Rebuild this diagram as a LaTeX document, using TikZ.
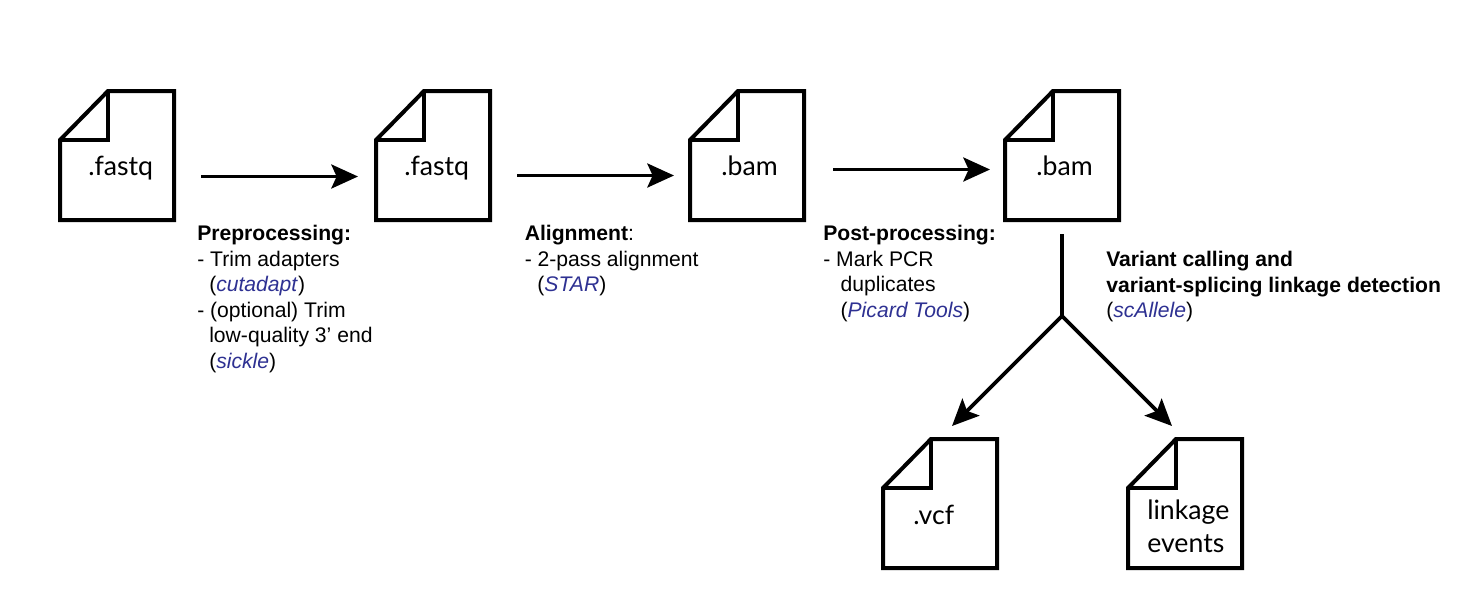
\documentclass[tikz,border=0pt]{standalone}
\usepackage{fontspec}
\setmainfont{Liberation Sans}
\newfontfamily\docfont{Lato}
\usetikzlibrary{arrows.meta}
\definecolor{toolblue}{HTML}{2E3192}
\tikzset{
  docline/.style={draw=black,line width=3pt,line join=miter,miter limit=3},
  doclabel/.style={inner sep=0pt,anchor=base west,font=\docfont\fontsize{20}{24}\selectfont},
  flow/.style={draw=black,line width=2.7pt,-{Stealth[length=20pt,width=18pt,inset=4pt]}},
  stem/.style={draw=black,line width=2.7pt},
  note/.style={inner sep=0pt,anchor=north west,align=left,font=\fontsize{15.85}{19.2}\selectfont},
}
\newcommand{\tool}[1]{\textcolor{toolblue}{\textit{#1}}}
\newcommand{\docfile}[3]{%
  \draw[docline] (#2,{#3+49}) -- ({#2+48},#3) -- ({#2+114},#3) -- ({#2+114},{#3+129}) -- (#2,{#3+129}) -- cycle;
  \draw[docline] ({#2+48},#3) -- ({#2+48},{#3+49}) -- (#2,{#3+49});
  \coordinate (#1) at (#2,#3);
}
\begin{document}
\begin{tikzpicture}[x=0.75pt,y=-0.75pt]
\useasboundingbox (0,0) rectangle (1473,597);
\docfile{fileA}{60}{91}
\docfile{fileB}{376}{91}
\docfile{fileC}{690}{91}
\docfile{fileD}{1005}{91}
\docfile{fileE}{883}{439}
\docfile{fileF}{1128}{439}
\node[doclabel] (labA) at (88,175) {.fastq};
\node[doclabel] (labB) at (404,175) {.fastq};
\node[doclabel] (labC) at (721,175) {.bam};
\node[doclabel] (labD) at (1036,175) {.bam};
\node[doclabel] (labE) at (913,524) {.vcf};
\node[doclabel] (labF) at (1147,519) {linkage};
\node[doclabel] (labG) at (1147,552) {events};
\coordinate (a1s) at (201,176.5); \coordinate (a1e) at (358,176.5);
\coordinate (a2s) at (517,175.5); \coordinate (a2e) at (674,175.5);
\coordinate (a3s) at (833,169.5); \coordinate (a3e) at (990,169.5);
\coordinate (top) at (1062,234); \coordinate (fork) at (1062,316);
\coordinate (vcfend) at (952,426); \coordinate (linkend) at (1172,426);
\draw[flow] (a1s) -- (a1e);
\draw[flow] (a2s) -- (a2e);
\draw[flow] (a3s) -- (a3e);
\draw[stem] (top) -- (fork);
\draw[flow] (fork) -- (vcfend);
\draw[flow] (fork) -- (linkend);
\node[note] (n1) at (197,225) {\textbf{Preprocessing:}\\- Trim adapters\\\hspace*{9pt}(\tool{cutadapt})\\- (optional) Trim\\\hspace*{9pt}low-quality 3’ end\\\hspace*{9pt}(\tool{sickle})};
\node[note] (n2) at (524.5,225) {\textbf{Alignment}:\\- 2-pass alignment\\\hspace*{9.5pt}(\tool{STAR})};
\node[note] (n3) at (823,225) {\textbf{Post-processing:}\\- Mark PCR\\\hspace*{13pt}duplicates\\\hspace*{13pt}(\tool{Picard Tools})};
\node[note] (n4) at (1106,251) {\textbf{Variant calling and}\\\textbf{variant-splicing linkage detection}\\(\tool{scAllele})};
\end{tikzpicture}
\end{document}
